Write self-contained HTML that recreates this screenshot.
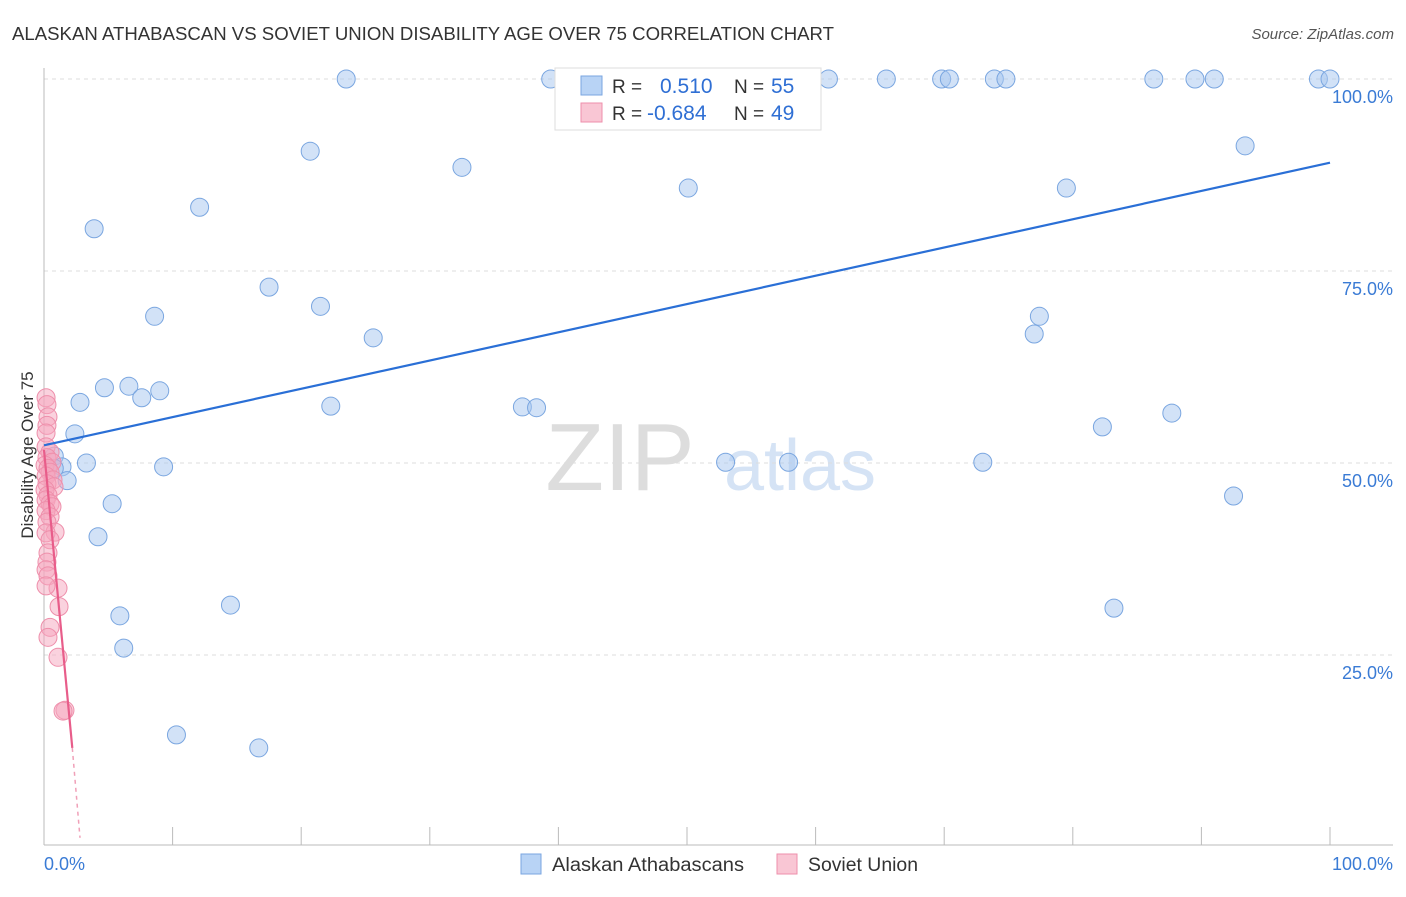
<!DOCTYPE html>
<html><head><meta charset="utf-8"><style>
body{margin:0;background:#fff;font-family:"Liberation Sans",sans-serif}
svg text{font-family:"Liberation Sans",sans-serif}
</style></head><body>
<svg id="c" width="1406" height="892">
<text x="12" y="40" font-size="18" fill="#333" textLength="822" lengthAdjust="spacingAndGlyphs">ALASKAN ATHABASCAN VS SOVIET UNION DISABILITY AGE OVER 75 CORRELATION CHART</text>
<text x="1394" y="39" font-size="15" fill="#555" font-style="italic" text-anchor="end">Source: ZipAtlas.com</text>
<text x="620" y="490" font-size="96" fill="#ddd" font-family="Liberation Serif" text-anchor="middle">ZIP</text>
<text x="800" y="490" font-size="72" fill="#d5e3f5" text-anchor="middle">atlas</text>
<text transform="translate(33,455) rotate(-90)" font-size="17" fill="#333" text-anchor="middle">Disability Age Over 75</text>
<g id="grid"></g><g id="pts"></g><g id="lines"></g>
<g>
<rect x="555" y="68" width="266" height="62" fill="#fff" stroke="#ddd"/>
<rect x="581" y="76" width="21" height="19" fill="#b8d3f5" stroke="#7aa6e0"/>
<rect x="581" y="103" width="21" height="19" fill="#f9c6d4" stroke="#ee8fab"/>
<text x="612" y="93" font-size="19" fill="#333">R =</text><text x="660" y="93" font-size="21" fill="#2f6fd4">0.510</text>
<text x="734" y="93" font-size="19" fill="#333">N =</text><text x="771" y="93" font-size="21" fill="#2f6fd4">55</text>
<text x="612" y="120" font-size="19" fill="#333">R =</text><text x="647" y="120" font-size="21" fill="#2f6fd4">-0.684</text>
<text x="734" y="120" font-size="19" fill="#333">N =</text><text x="771" y="120" font-size="21" fill="#2f6fd4">49</text>
</g>
<g>
<rect x="521" y="854" width="20" height="20" fill="#b8d3f5" stroke="#7aa6e0"/>
<text x="552" y="871" font-size="19" fill="#333" textLength="192" lengthAdjust="spacingAndGlyphs">Alaskan Athabascans</text>
<rect x="777" y="854" width="20" height="20" fill="#f9c6d4" stroke="#ee8fab"/>
<text x="808" y="871" font-size="19" fill="#333" textLength="110" lengthAdjust="spacingAndGlyphs">Soviet Union</text>
</g>
<text x="44" y="870" font-size="18" fill="#3a7bd5">0.0%</text>
<text x="1393" y="870" font-size="18" fill="#3a7bd5" text-anchor="end">100.0%</text>
</svg>
<script>
const yTicks=[100,75,50,25];
const yTickLabels=["100.0%","75.0%","50.0%","25.0%"];
const blueX=[23.5,39.4,61.0,65.5,69.8,70.4,73.9,74.8,86.3,89.5,91.0,99.1,100,20.7,32.5,93.4,50.1,79.5,12.1,3.9,17.5,21.5,8.6,77.4,77.0,25.6,4.7,6.6,9.0,7.6,2.8,22.3,37.2,38.3,87.7,82.3,2.4,0.8,3.3,1.4,0.8,9.3,53.0,57.9,73.0,1.8,5.3,92.5,4.2,14.5,83.2,5.9,6.2,10.3,16.7];
const blueY=[100,100,100,100,100,100,100,100,100,100,100,100,100,90.6,88.5,91.3,85.8,85.8,83.3,80.5,72.9,70.4,69.1,69.1,66.8,66.3,59.8,60.0,59.4,58.5,57.9,57.4,57.3,57.2,56.5,54.7,53.8,50.9,50.0,49.5,49.3,49.5,50.1,50.1,50.1,47.7,44.7,45.7,40.4,31.5,31.1,30.1,25.9,14.6,12.9];
const pinkX=[0.16,0.23,0.31,0.23,0.16,0.16,0.47,0.23,0.62,0.08,0.31,0.47,0.16,0.70,0.23,0.78,0.08,0.31,0.16,0.47,0.62,0.16,0.47,0.23,0.86,0.16,0.47,0.31,0.23,0.16,0.31,1.09,0.16,1.17,0.47,0.31,1.09,1.63,1.48];
const pinkY=[58.5,57.6,56.0,54.9,53.9,52.1,51.4,50.7,50.1,49.7,49.3,48.8,48.3,47.8,47.3,46.9,46.5,45.8,45.2,44.7,44.3,43.8,43.0,42.3,41.0,40.9,40.0,38.3,37.1,36.1,35.3,33.7,34.0,31.3,28.6,27.3,24.7,17.8,17.7];
const blueTrend=[[0,52.3],[100,89.1]];
const pinkTrend=[[0,51.7],[2.2,12.9]];
const pinkDash=[[2.2,12.9],[2.8,1.2]];
const xs=v=>44+v*12.86, ys=v=>847-v*7.68;
const NS="http://www.w3.org/2000/svg";
function mk(p,t,a){const e=document.createElementNS(NS,t);for(const k in a)e.setAttribute(k,a[k]);p.appendChild(e);return e;}
const g=document.getElementById('grid');
yTicks.forEach((t,i)=>{
 const l=mk(g,'line',{x1:44,x2:1393,y1:ys(t),y2:ys(t),stroke:'#ddd','stroke-dasharray':'4,4'});
 
 
 const tx=mk(g,'text',{x:1393,y:ys(t)+24,'font-size':18,fill:'#3a7bd5','text-anchor':'end'});tx.textContent=yTickLabels[i];
 
 
});
const ax=mk(g,'line',{x1:44,x2:1393,y1:845,y2:845,stroke:'#bbb'});


const ay=mk(g,'line',{x1:44,x2:44,y1:68,y2:845,stroke:'#bbb'});


for(let i=0;i<=10;i++){const t=mk(g,'line',{x1:xs(i*10),x2:xs(i*10),y1:827,y2:845,stroke:'#bbb'});
 
 }
const p=document.getElementById('pts');
blueX.forEach((x,i)=>{const c=mk(p,'circle',{cx:xs(x),cy:ys(blueY[i]),r:9,fill:'rgba(165,198,240,0.5)',stroke:'#7aa6e0','stroke-width':1});
 
 });
pinkX.forEach((x,i)=>{const c=mk(p,'circle',{cx:xs(x),cy:ys(pinkY[i]),r:9,fill:'rgba(245,165,190,0.5)',stroke:'#ee8fab','stroke-width':1});
 
 });
const L=document.getElementById('lines');
const b=mk(L,'line',{x1:xs(blueTrend[0][0]),y1:ys(blueTrend[0][1]),x2:xs(blueTrend[1][0]),y2:ys(blueTrend[1][1]),stroke:'#2a6fd6','stroke-width':2.2});


const pk=mk(L,'line',{x1:xs(pinkTrend[0][0]),y1:ys(pinkTrend[0][1]),x2:xs(pinkTrend[1][0]),y2:ys(pinkTrend[1][1]),stroke:'#e85d8a','stroke-width':2.2});


const pd=mk(L,'line',{x1:xs(pinkDash[0][0]),y1:ys(pinkDash[0][1]),x2:xs(pinkDash[1][0]),y2:ys(pinkDash[1][1]),stroke:'#f0a0b8','stroke-width':1.5,'stroke-dasharray':'4,4'});


</script>
</body></html>
